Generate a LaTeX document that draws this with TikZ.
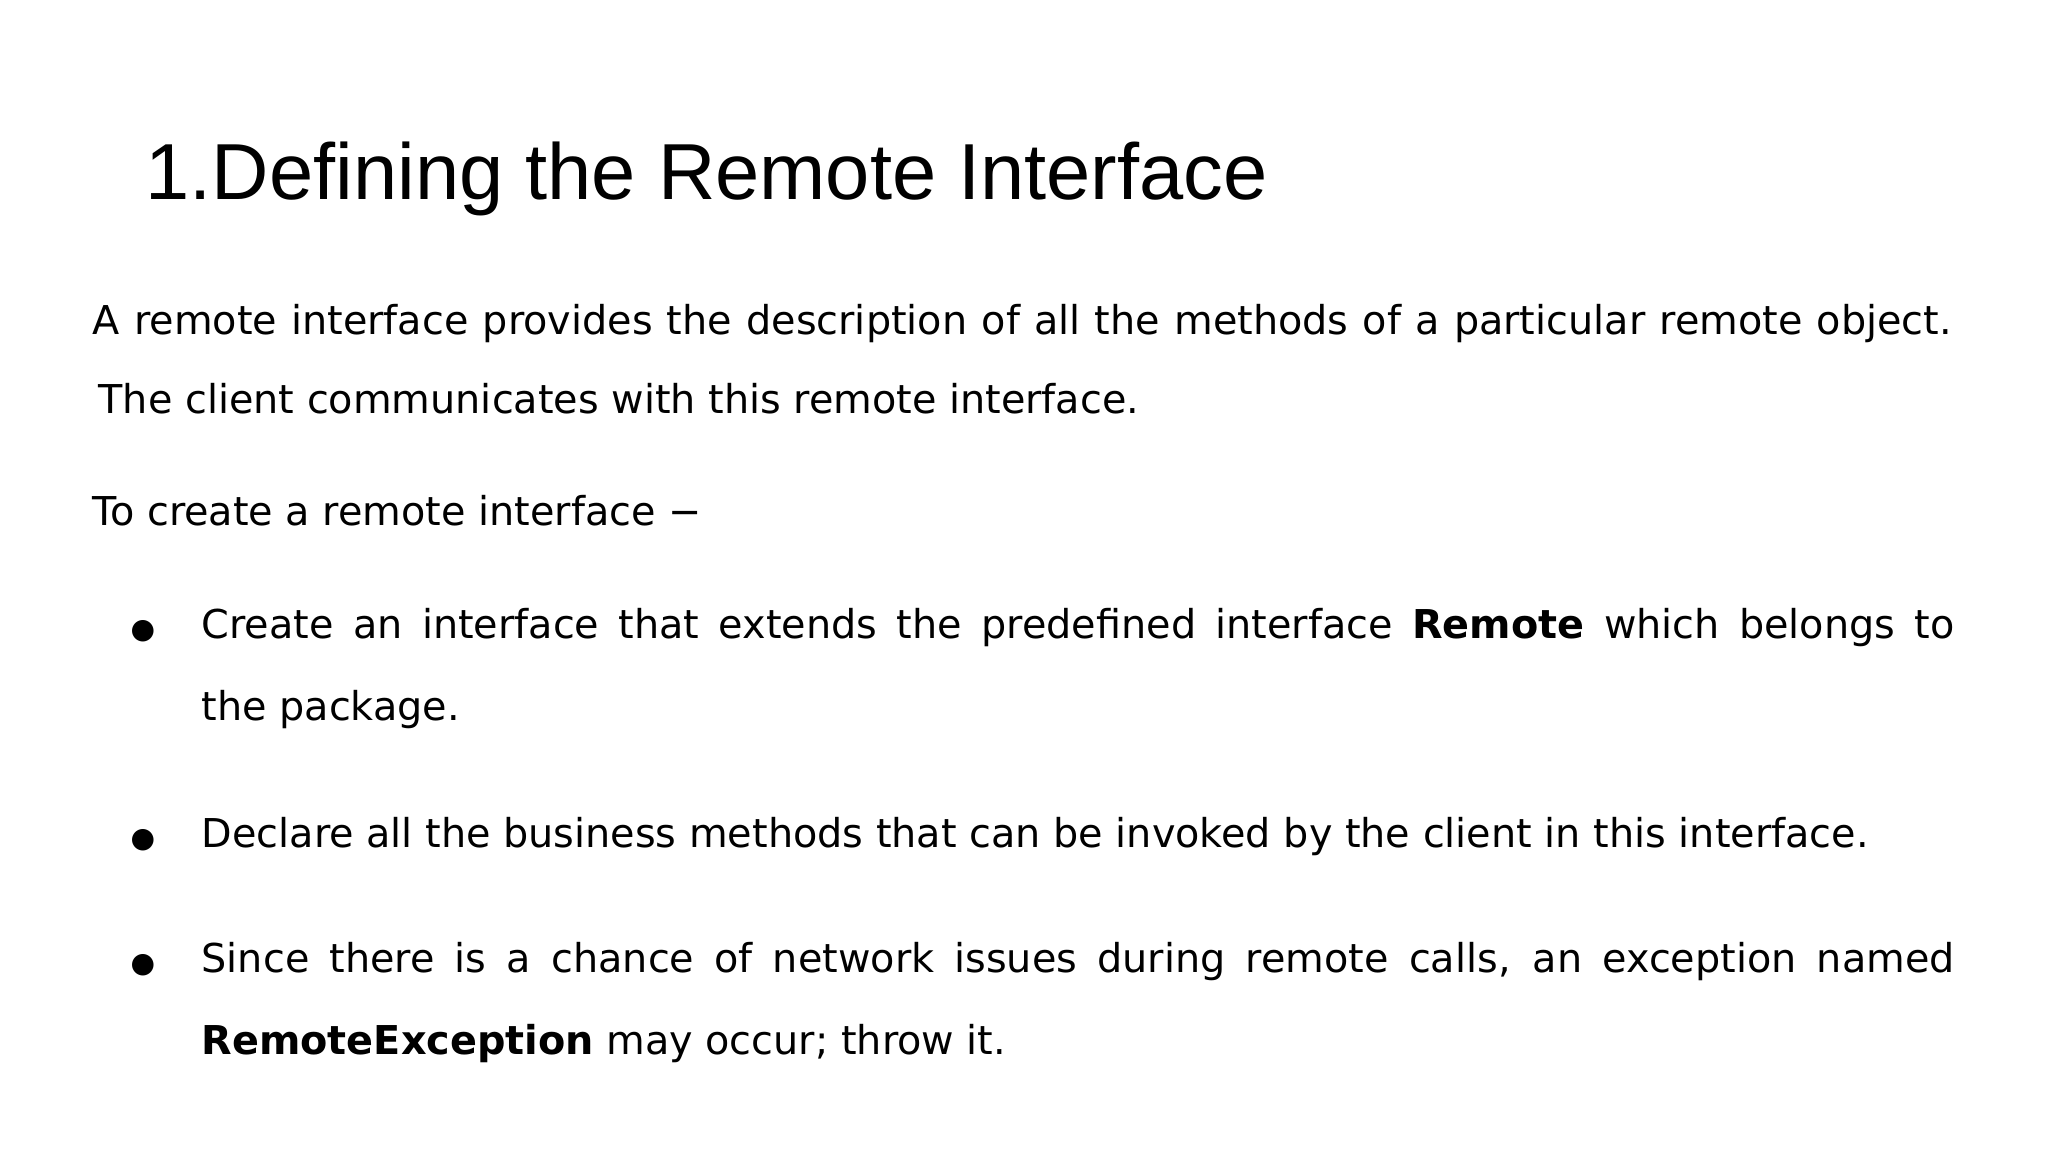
\documentclass[tikz,border=0pt]{standalone}
\usepackage{fontspec}
\setmainfont{DejaVu Sans}
\newfontfamily\titlefont{Liberation Sans}
\begin{document}
\begin{tikzpicture}[x=0.01cm,y=-0.01cm,
  body/.style={anchor=base west,inner sep=0pt,font=\fontsize{11.3pt}{13pt}\selectfont},
  dot/.style={anchor=base west,inner sep=0pt,font=\fontsize{8pt}{10pt}\selectfont},
  ttl/.style={anchor=base west,inner sep=0pt,font=\titlefont\fontsize{22.6pt}{27pt}\selectfont}]
\useasboundingbox[fill=white] (0,0) rectangle (2048,1152);
\node[ttl] (t) at (145,200) {1.Defining the Remote Interface};
\node[body] (p1) at (92,335) {\makebox[18.58cm][s]{A remote interface provides the description of all the methods of a particular remote object.}};
\node[body] (p2) at (98,414) {The client communicates with this remote interface.};
\node[body] (p3) at (92,525) {To create a remote interface −};
\node[dot] (d1) at (130,638) {●};
\node[body] (b1) at (201,638) {\makebox[17.52cm][s]{Create an interface that extends the predefined interface \textbf{Remote} which belongs to}};
\node[body] (b1b) at (201,720) {the package.};
\node[dot] (d2) at (130,847) {●};
\node[body] (b2) at (201,847) {Declare all the business methods that can be invoked by the client in this interface.};
\node[dot] (d3) at (130,972) {●};
\node[body] (b3) at (201,972) {\makebox[17.52cm][s]{Since there is a chance of network issues during remote calls, an exception named}};
\node[body] (b3b) at (201,1054) {\textbf{RemoteException} may occur; throw it.};
\end{tikzpicture}
\end{document}
